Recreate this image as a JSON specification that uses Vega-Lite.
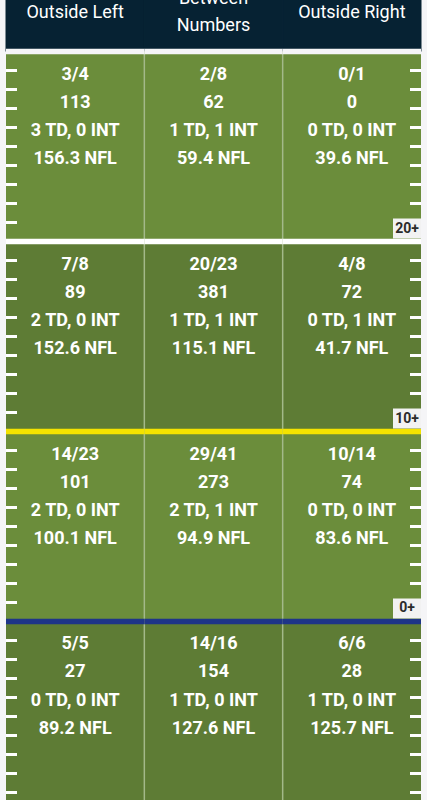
{
  "$schema": "https://vega.github.io/schema/vega-lite/v6.json",
  "width": 427,
  "height": 800,
  "autosize": "none",
  "padding": 0,
  "background": "#f5f5f7",
  "config": {"view": {"stroke": null}, "font": "Roboto"},
  "datasets": {
    "header": [
      {"col": "Outside Left", "label": "Outside Left"},
      {"col": "Between Numbers", "label": "Between\nNumbers"},
      {"col": "Outside Right", "label": "Outside Right"}
    ],
    "cells": [
      {"zone": "20+", "col": "Outside Left", "lo": 20, "hi": 30, "cmp": 3, "att": 4, "yds": 113, "td": 3, "picks": 0, "rating": 156.3},
      {"zone": "20+", "col": "Between Numbers", "lo": 20, "hi": 30, "cmp": 2, "att": 8, "yds": 62, "td": 1, "picks": 1, "rating": 59.4},
      {"zone": "20+", "col": "Outside Right", "lo": 20, "hi": 30, "cmp": 0, "att": 1, "yds": 0, "td": 0, "picks": 0, "rating": 39.6},
      {"zone": "10+", "col": "Outside Left", "lo": 10, "hi": 20, "cmp": 7, "att": 8, "yds": 89, "td": 2, "picks": 0, "rating": 152.6},
      {"zone": "10+", "col": "Between Numbers", "lo": 10, "hi": 20, "cmp": 20, "att": 23, "yds": 381, "td": 1, "picks": 1, "rating": 115.1},
      {"zone": "10+", "col": "Outside Right", "lo": 10, "hi": 20, "cmp": 4, "att": 8, "yds": 72, "td": 0, "picks": 1, "rating": 41.7},
      {"zone": "0+", "col": "Outside Left", "lo": 0, "hi": 10, "cmp": 14, "att": 23, "yds": 101, "td": 2, "picks": 0, "rating": 100.1},
      {"zone": "0+", "col": "Between Numbers", "lo": 0, "hi": 10, "cmp": 29, "att": 41, "yds": 273, "td": 2, "picks": 1, "rating": 94.9},
      {"zone": "0+", "col": "Outside Right", "lo": 0, "hi": 10, "cmp": 10, "att": 14, "yds": 74, "td": 0, "picks": 0, "rating": 83.6},
      {"zone": "Behind", "col": "Outside Left", "lo": -10, "hi": 0, "cmp": 5, "att": 5, "yds": 27, "td": 0, "picks": 0, "rating": 89.2},
      {"zone": "Behind", "col": "Between Numbers", "lo": -10, "hi": 0, "cmp": 14, "att": 16, "yds": 154, "td": 1, "picks": 0, "rating": 127.6},
      {"zone": "Behind", "col": "Outside Right", "lo": -10, "hi": 0, "cmp": 6, "att": 6, "yds": 28, "td": 1, "picks": 0, "rating": 125.7}
    ],
    "hash": [
      {"yard": -9}, {"yard": -8}, {"yard": -7}, {"yard": -6}, {"yard": -5}, {"yard": -4}, {"yard": -3}, {"yard": -2}, {"yard": -1},
      {"yard": 1}, {"yard": 2}, {"yard": 3}, {"yard": 4}, {"yard": 5}, {"yard": 6}, {"yard": 7}, {"yard": 8}, {"yard": 9},
      {"yard": 11}, {"yard": 12}, {"yard": 13}, {"yard": 14}, {"yard": 15}, {"yard": 16}, {"yard": 17}, {"yard": 18}, {"yard": 19},
      {"yard": 21}, {"yard": 22}, {"yard": 23}, {"yard": 24}, {"yard": 25}, {"yard": 26}, {"yard": 27}, {"yard": 28}, {"yard": 29}
    ]
  },
  "layer": [
    {
      "data": {"name": "header"},
      "mark": {"type": "rect", "color": "#062233", "stroke": "#062233", "strokeWidth": 1},
      "encoding": {
        "x": {"field": "col", "type": "nominal", "axis": null, "scale": {"domain": ["Outside Left", "Between Numbers", "Outside Right"], "range": [6, 421], "paddingInner": 0, "paddingOuter": 0}},
        "y": {"datum": 30, "type": "quantitative", "axis": null, "scale": {"domain": [-9.395, 32.711], "nice": false, "zero": false}},
        "y2": {"datum": 34}
      }
    },
    {
      "data": {"name": "header"},
      "mark": {"type": "text", "color": "#ffffff", "fontSize": 18, "fontWeight": "normal", "baseline": "middle", "align": "center", "lineBreak": "\n", "lineHeight": 27, "dy": {"expr": "-(length(split(datum.label, '\\n')) - 1) * 13.5"}},
      "encoding": {
        "x": {"field": "col", "type": "nominal", "axis": null, "scale": {"domain": ["Outside Left", "Between Numbers", "Outside Right"], "range": [6, 421], "paddingInner": 0, "paddingOuter": 0}},
        "y": {"datum": 32.05, "type": "quantitative", "axis": null, "scale": {"domain": [-9.395, 32.711], "nice": false, "zero": false}},
        "text": {"field": "label", "type": "nominal"}
      }
    },
    {
      "data": {"name": "cells"},
      "mark": {"type": "rect"},
      "encoding": {
        "x": {"field": "col", "type": "nominal", "axis": null, "scale": {"domain": ["Outside Left", "Between Numbers", "Outside Right"], "range": [6, 421], "paddingInner": 0, "paddingOuter": 0}},
        "y": {"field": "lo", "type": "quantitative", "axis": null, "scale": {"domain": [-9.395, 32.711], "nice": false, "zero": false}},
        "y2": {"field": "hi"},
        "color": {"field": "zone", "type": "nominal", "legend": null, "scale": {"domain": ["20+", "10+", "0+", "Behind"], "range": ["#6b8d3b", "#5e7c35", "#6b8d3b", "#5e7c35"]}}
      }
    },
    {
      "data": {"name": "cells"},
      "transform": [{"filter": "datum.col !== 'Outside Left'"}],
      "mark": {"type": "rule", "color": "#a3b98a", "strokeWidth": 1.5},
      "encoding": {
        "x": {"field": "col", "type": "nominal", "bandPosition": 0, "axis": null, "scale": {"domain": ["Outside Left", "Between Numbers", "Outside Right"], "range": [6, 421], "paddingInner": 0, "paddingOuter": 0}},
        "y": {"field": "lo", "type": "quantitative", "axis": null, "scale": {"domain": [-9.395, 32.711], "nice": false, "zero": false}},
        "y2": {"field": "hi"}
      }
    },
    {
      "data": {"name": "cells"},
      "mark": {"type": "rect", "height": 5.5},
      "encoding": {
        "x": {"field": "col", "type": "nominal", "axis": null, "scale": {"domain": ["Outside Left", "Between Numbers", "Outside Right"], "range": [6, 421], "paddingInner": 0, "paddingOuter": 0}},
        "y": {"field": "hi", "type": "quantitative", "axis": null, "scale": {"domain": [-9.395, 32.711], "nice": false, "zero": false}},
        "fill": {"field": "zone", "type": "nominal", "legend": null, "scale": {"domain": ["20+", "10+", "0+", "Behind"], "range": ["#f5f5f7", "#ffffff", "#f4e300", "#1e3588"]}}
      }
    },
    {
      "data": {"name": "hash"},
      "mark": {"type": "point", "shape": "M-1,-0.2727L1,-0.2727L1,0.2727L-1,0.2727Z", "size": 121, "filled": true, "color": "#ffffff", "opacity": 1, "strokeWidth": 0, "xOffset": 5.5},
      "encoding": {
        "x": {"datum": "Outside Left", "type": "nominal", "bandPosition": 0, "axis": null, "scale": {"domain": ["Outside Left", "Between Numbers", "Outside Right"], "range": [6, 421], "paddingInner": 0, "paddingOuter": 0}},
        "y": {"field": "yard", "type": "quantitative", "axis": null, "scale": {"domain": [-9.395, 32.711], "nice": false, "zero": false}}
      }
    },
    {
      "data": {"name": "hash"},
      "mark": {"type": "point", "shape": "M-1,-0.2727L1,-0.2727L1,0.2727L-1,0.2727Z", "size": 121, "filled": true, "color": "#ffffff", "opacity": 1, "strokeWidth": 0, "xOffset": -5.5},
      "encoding": {
        "x": {"datum": "Outside Right", "type": "nominal", "bandPosition": 1, "axis": null, "scale": {"domain": ["Outside Left", "Between Numbers", "Outside Right"], "range": [6, 421], "paddingInner": 0, "paddingOuter": 0}},
        "y": {"field": "yard", "type": "quantitative", "axis": null, "scale": {"domain": [-9.395, 32.711], "nice": false, "zero": false}}
      }
    },
    {
      "data": {"name": "cells"},
      "mark": {"type": "text", "color": "#ffffff", "fontSize": 18, "fontWeight": "bold", "baseline": "middle", "align": "center", "dy": 23, "text": {"expr": "datum.cmp + '/' + datum.att"}},
      "encoding": {
        "x": {"field": "col", "type": "nominal", "axis": null, "scale": {"domain": ["Outside Left", "Between Numbers", "Outside Right"], "range": [6, 421], "paddingInner": 0, "paddingOuter": 0}},
        "y": {"field": "hi", "type": "quantitative", "axis": null, "scale": {"domain": [-9.395, 32.711], "nice": false, "zero": false}}
      }
    },
    {
      "data": {"name": "cells"},
      "mark": {"type": "text", "color": "#ffffff", "fontSize": 18, "fontWeight": "bold", "baseline": "middle", "align": "center", "dy": 51},
      "encoding": {
        "x": {"field": "col", "type": "nominal", "axis": null, "scale": {"domain": ["Outside Left", "Between Numbers", "Outside Right"], "range": [6, 421], "paddingInner": 0, "paddingOuter": 0}},
        "y": {"field": "hi", "type": "quantitative", "axis": null, "scale": {"domain": [-9.395, 32.711], "nice": false, "zero": false}},
        "text": {"field": "yds", "type": "quantitative", "format": "d"}
      }
    },
    {
      "data": {"name": "cells"},
      "mark": {"type": "text", "color": "#ffffff", "fontSize": 18, "fontWeight": "bold", "baseline": "middle", "align": "center", "dy": 79.5, "text": {"expr": "datum.td + ' TD, ' + datum.picks + ' INT'"}},
      "encoding": {
        "x": {"field": "col", "type": "nominal", "axis": null, "scale": {"domain": ["Outside Left", "Between Numbers", "Outside Right"], "range": [6, 421], "paddingInner": 0, "paddingOuter": 0}},
        "y": {"field": "hi", "type": "quantitative", "axis": null, "scale": {"domain": [-9.395, 32.711], "nice": false, "zero": false}}
      }
    },
    {
      "data": {"name": "cells"},
      "mark": {"type": "text", "color": "#ffffff", "fontSize": 18, "fontWeight": "bold", "baseline": "middle", "align": "center", "dy": 107.5, "text": {"expr": "format(datum.rating, '.1f') + ' NFL'"}},
      "encoding": {
        "x": {"field": "col", "type": "nominal", "axis": null, "scale": {"domain": ["Outside Left", "Between Numbers", "Outside Right"], "range": [6, 421], "paddingInner": 0, "paddingOuter": 0}},
        "y": {"field": "hi", "type": "quantitative", "axis": null, "scale": {"domain": [-9.395, 32.711], "nice": false, "zero": false}}
      }
    },
    {
      "data": {"name": "cells"},
      "transform": [{"filter": "datum.col === 'Outside Right' && datum.zone !== 'Behind'"}],
      "mark": {"type": "point", "shape": "M-1,-0.714L1,-0.714L1,0.714L-1,0.714Z", "size": 784, "filled": true, "color": "#f2f2f2", "opacity": 1, "strokeWidth": 0, "xOffset": -14, "yOffset": -13},
      "encoding": {
        "x": {"field": "col", "type": "nominal", "bandPosition": 1, "axis": null, "scale": {"domain": ["Outside Left", "Between Numbers", "Outside Right"], "range": [6, 421], "paddingInner": 0, "paddingOuter": 0}},
        "y": {"field": "lo", "type": "quantitative", "axis": null, "scale": {"domain": [-9.395, 32.711], "nice": false, "zero": false}}
      }
    },
    {
      "data": {"name": "cells"},
      "transform": [{"filter": "datum.col === 'Outside Right' && datum.zone !== 'Behind'"}],
      "mark": {"type": "text", "color": "#2b2b2b", "fontSize": 14, "fontWeight": "bold", "baseline": "middle", "align": "center", "xOffset": -14, "yOffset": -13},
      "encoding": {
        "x": {"field": "col", "type": "nominal", "bandPosition": 1, "axis": null, "scale": {"domain": ["Outside Left", "Between Numbers", "Outside Right"], "range": [6, 421], "paddingInner": 0, "paddingOuter": 0}},
        "y": {"field": "lo", "type": "quantitative", "axis": null, "scale": {"domain": [-9.395, 32.711], "nice": false, "zero": false}},
        "text": {"field": "zone", "type": "nominal"}
      }
    }
  ]
}
